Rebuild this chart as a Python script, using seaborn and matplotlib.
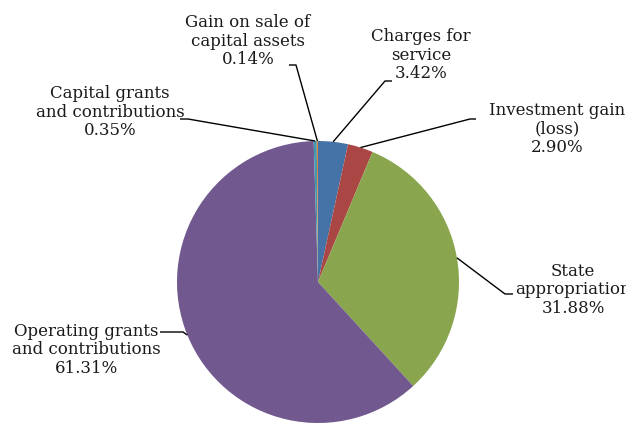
import numpy as np
import matplotlib
matplotlib.use("Agg")
import matplotlib.pyplot as plt
import seaborn as sns

# Data (clockwise from 12 o'clock)
categories = ["Charges for\nservice", "Investment gain\n(loss)", "State\nappropriation",
              "Operating grants\nand contributions", "Capital grants\nand contributions",
              "Gain on sale of\ncapital assets"]
shares = [3.42, 2.90, 31.88, 61.31, 0.35, 0.14]
colors = ["#4572A7", "#AA4643", "#89A54E", "#71588F", "#4198AF", "#DB843D"]

sns.set_style("white")
plt.rcParams['font.family'] = ['DejaVu Serif']

W, H = 626, 423
fig = plt.figure(figsize=(W / 100, H / 100), dpi=100)
ax = fig.add_axes([0, 0, 1, 1])

cx, cy, r = 318, H - 282, 141
wedges, _ = ax.pie(shares, colors=colors, startangle=90, counterclock=False,
                   center=(cx, cy), radius=r, wedgeprops=dict(linewidth=0))
ax.set_xlim(0, W)
ax.set_ylim(0, H)
ax.set_aspect('equal')
ax.axis('off')

# label layout: text centre and leader-line points, pixel coords (y from top)
layout = [
    dict(txt=(421, 55), pts=[(385, 81), (392, 81)]),
    dict(txt=(557, 129), pts=[(470, 119), (476, 119)]),
    dict(txt=(573, 290), pts=[(505, 294), (513, 294)]),
    dict(txt=(86, 350), pts=[(183, 332), (160, 332)]),
    dict(txt=(110, 112), pts=[(188, 119), (180, 119)]),
    dict(txt=(248, 41), pts=[(296, 65), (289, 65)]),
]

for w, name, val, lay in zip(wedges, categories, shares, layout):
    mid = np.deg2rad((w.theta1 + w.theta2) / 2)
    ax_pt = (cx + r * np.cos(mid), cy + r * np.sin(mid))
    xs = [ax_pt[0]] + [p[0] for p in lay['pts']]
    ys = [ax_pt[1]] + [H - p[1] for p in lay['pts']]
    ax.plot(xs, ys, color='black', lw=1.0, solid_capstyle='butt')
    tx, ty = lay['txt']
    ax.text(tx, H - ty, f"{name}\n{val:.2f}%", ha='center', va='center',
            fontsize=12, linespacing=1.15, color='#1a1a1a')

fig.savefig("out.png", dpi=100)
